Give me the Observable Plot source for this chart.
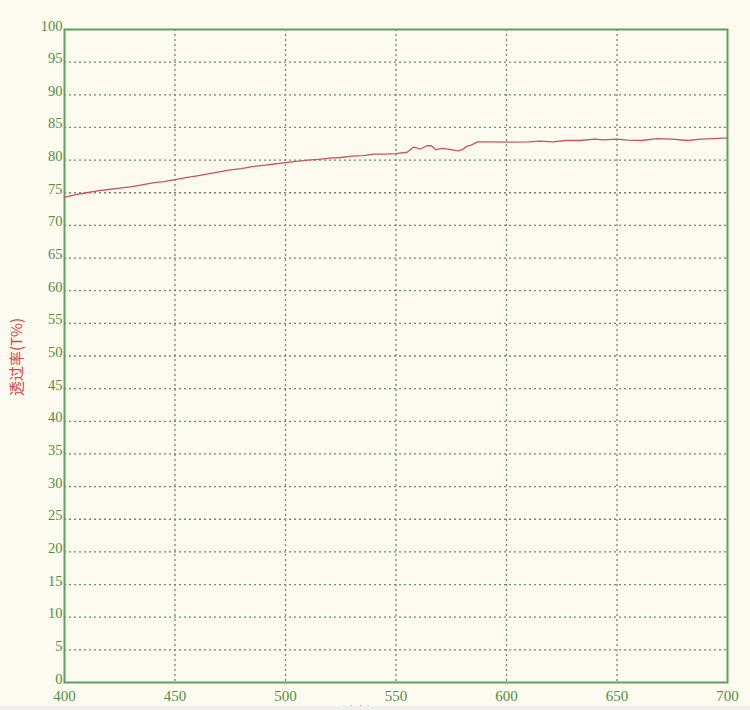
<!DOCTYPE html>
<html>
<head>
<meta charset="utf-8">
<script src="https://cdn.jsdelivr.net/npm/d3@7"></script>
<script src="https://cdn.jsdelivr.net/npm/@observablehq/plot@0.6"></script>
<style>
  html, body { margin: 0; padding: 0; background: #fdfbef; overflow: hidden; }
  #chart { position: relative; width: 750px; height: 710px; }
</style>
</head>
<body>
<div id="chart"></div>
<script>
const wavelength = [400,405,410,415,420,425,430,435,440,445,450,455,460,465,470,475,480,485,490,495,500,505,510,515,520,525,530,535,540,545,550,555,558,561,564,566,568,571,575,578,580,582,584,587,591,600,610,615,621,627,633,640,644,650,655,661,668,675,682,688,694,700];
const transmittance = [74.3,74.7,75.0,75.3,75.5,75.7,75.9,76.2,76.5,76.7,77.0,77.3,77.6,77.9,78.2,78.5,78.7,79.0,79.2,79.4,79.6,79.8,80.0,80.1,80.3,80.4,80.6,80.7,80.9,80.9,81.0,81.2,82.0,81.7,82.2,82.2,81.6,81.8,81.6,81.4,81.6,82.1,82.3,82.8,82.8,82.75,82.8,82.9,82.8,83.0,83.0,83.2,83.1,83.2,83.05,83.0,83.3,83.2,83.0,83.2,83.3,83.4];
const xTicks = [400,450,500,550,600,650,700];
const yTicks = d3.range(0, 101, 5);
const xLabel = "波长(nm)";
const yLabel = "透过率(T%)";

const data = wavelength.map((w, i) => ({w, t: transmittance[i]}));

const green = "#5f9f5f";
const gridColor = "#6a8a6a";
const tickColor = "#4f8f3f";

const plot = Plot.plot({
  width: 750,
  height: 710,
  marginLeft: 64,
  marginRight: 23,
  marginTop: 29,
  marginBottom: 28,
  style: {background: "#fdfbef", fontFamily: "'Liberation Serif', 'DejaVu Serif', serif"},
  x: {domain: [400, 700], ticks: xTicks, label: null},
  y: {domain: [0, 100], ticks: yTicks, label: null},
  marks: [
    Plot.gridX(xTicks.slice(1, -1), {stroke: gridColor, strokeOpacity: 1, strokeWidth: 1.3, strokeDasharray: "2,3"}),
    Plot.gridY(yTicks.slice(1, -1), {stroke: gridColor, strokeOpacity: 1, strokeWidth: 1.3, strokeDasharray: "2,3"}),
    Plot.frame({stroke: green, strokeWidth: 2}),
    Plot.axisX(xTicks, {tickSize: 0, tickPadding: 8, fontSize: 15, fill: tickColor, label: null}),
    Plot.axisY(yTicks, {tickSize: 0, tickPadding: 2, fontSize: 14.5, fill: tickColor, lineAnchor: "bottom", dy: 1, label: null}),
    Plot.line(data, {x: "w", y: "t", stroke: "#c85555", strokeWidth: 1.3})
  ]
});

document.getElementById("chart").appendChild(plot);

const svg = d3.select(plot);
svg.append("text")
  .attr("transform", "translate(22,357) rotate(-90)")
  .attr("text-anchor", "middle")
  .attr("fill", "#d04848")
  .attr("font-size", 15)
  .attr("font-family", "'Noto Sans CJK SC', serif")
  .text(yLabel);
svg.append("text")
  .attr("x", 373)
  .attr("y", 718)
  .attr("text-anchor", "middle")
  .attr("fill", "#8a7a7a")
  .attr("font-size", 15)
  .attr("font-family", "'Noto Sans CJK SC', serif")
  .text(xLabel);
svg.append("rect")
  .attr("x", 0).attr("y", 706).attr("width", 750).attr("height", 4)
  .attr("fill", "#eeeeee");
</script>
</body>
</html>
